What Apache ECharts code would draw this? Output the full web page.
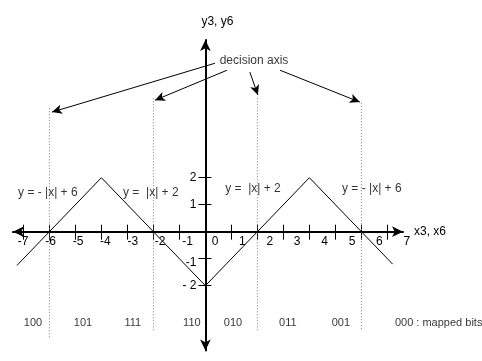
<!DOCTYPE html>
<html>
<head>
<meta charset="utf-8">
<script src="https://cdn.jsdelivr.net/npm/echarts@6/dist/echarts.min.js"></script>
<style>
  html, body { margin: 0; padding: 0; background: #fff; }
  #chart { width: 482px; height: 361px; }
</style>
</head>
<body>
<div id="chart"></div>
<script>
// Zig-zag decision function y = f(x) for the 8-level constellation
var curveX = [-7.25, -6, -4, -2, 0, 2, 4, 6, 7.2];
var curveY = [-1.25, 0, 2, 0, -2, 0, 2, 0, -1.2];

// Axis ticks and labels
var xTicks = [-7, -6, -5, -4, -3, -2, -1, 0, 1, 2, 3, 4, 5, 6, 7];
var xTickLabels = ['-7', '-6', '-5', '-4', '-3', '-2', '-1', '0', '1', '2', '3', '4', '5', '6', '7'];
var yTicks = [-2, -1, 1, 2];
var yTickLabels = ['- 2', '-1', '1', '2'];
// where each y tick label sits (the "-1" is set a little below its tick)
var yLabelAt = [-2, -1.13, 1, 2];

// Decision thresholds (vertical dotted lines)
var decisionX = [-6, -2, 2, 6];
var decisionTop = [4.57, 4.94, 4.94, 4.76];
var decisionBottom = [-3.91, -3.65, -3.65, -3.65];

// Callout arrows from the "decision axis" note
var arrowFrom = [[0.37, 6.24], [0.83, 5.98], [1.71, 5.91], [2.87, 5.98]];
var arrowTo = [[-5.9, 4.43], [-1.94, 4.87], [2.02, 5.06], [5.94, 4.80]];
var noteText = 'decision axis';
var notePos = [1.87, 6.35];

// Equation labels for each branch
var eqTexts = ['y = - |x| + 6', 'y =  |x| + 2', 'y =  |x| + 2', 'y = - |x| + 6'];
var eqX = [-6.06, -2.1, 1.83, 6.4];
var eqY = [1.46, 1.46, 1.61, 1.61];

// Mapped bit groups under each region
var bitTexts = ['100', '101', '111', '110', '010', '011', '001', '000 : mapped bits'];
var bitX = [-6.63, -4.71, -2.79, -0.52, 1.06, 3.17, 5.21, 7.29];
var bitY = -3.39;

var FONT = 'Liberation Sans, Arial, sans-serif';

var X_MIN = -7.4, X_MAX = 7.6, Y_MIN = -4.4, Y_MAX = 7.1;

var chart = echarts.init(document.getElementById('chart'), null, { renderer: 'canvas' });

var series = [];

series.push({
  name: 'f(x)',
  type: 'line',
  xAxisIndex: 0, yAxisIndex: 0,
  data: curveX.map(function (x, i) { return [x, curveY[i]]; }),
  symbol: 'none',
  lineStyle: { color: '#000', width: 1 },
  silent: true,
  z: 3
});

decisionX.forEach(function (x, i) {
  series.push({
    name: 'decision ' + (i + 1),
    type: 'line',
    xAxisIndex: 0, yAxisIndex: 0,
    data: [[x, decisionTop[i]], [x, decisionBottom[i]]],
    symbol: 'none',
    lineStyle: { color: '#777', width: 1, type: [1, 2] },
    silent: true,
    z: 1
  });
});

series.push({
  name: 'note',
  type: 'scatter',
  xAxisIndex: 0, yAxisIndex: 0,
  data: [{ value: notePos, name: noteText }],
  symbolSize: 0,
  silent: true,
  label: {
    show: true, position: 'inside', formatter: '{b}',
    color: '#000', fontFamily: FONT, fontSize: 12
  },
  markLine: {
    silent: true,
    symbol: ['none', 'arrow'],
    symbolSize: [7, 10],
    label: { show: false },
    lineStyle: { color: '#000', width: 1, type: 'solid' },
    data: arrowFrom.map(function (p, i) {
      return [{ coord: p }, { coord: arrowTo[i] }];
    })
  }
});

series.push({
  name: 'equations',
  type: 'scatter',
  xAxisIndex: 0, yAxisIndex: 0,
  data: eqTexts.map(function (t, i) { return { value: [eqX[i], eqY[i]], name: t }; }),
  symbolSize: 0,
  silent: true,
  label: {
    show: true, position: 'inside', formatter: '{b}',
    color: '#000', fontFamily: FONT, fontSize: 12
  },
  z: 4
});

var bitData = bitTexts.map(function (t, i) { return { value: [bitX[i], bitY], name: t }; });
// the last entry is left-aligned ("000 : mapped bits")
bitData[bitData.length - 1].label = { align: 'left' };

series.push({
  name: 'bits',
  type: 'scatter',
  xAxisIndex: 0, yAxisIndex: 0,
  data: bitData,
  symbolSize: 0,
  silent: true,
  label: {
    show: true, position: 'inside', formatter: '{b}',
    color: '#000', fontFamily: FONT, fontSize: 11,
    align: 'center'
  }
});

var option = {
  animation: false,
  backgroundColor: '#fff',
  grid: [
    { left: 13, right: 79, top: 40, bottom: 10.5,
      outerBoundsMode: 'none', containLabel: false },
    // thin strip carrying the x tick labels on their own scale
    { left: 9.5, right: 61.5, top: 231, height: 1,
      outerBoundsMode: 'none', containLabel: false }
  ],
  xAxis: [
    {
      type: 'value', gridIndex: 0, min: X_MIN, max: X_MAX,
      position: 'bottom',
      axisLine: { onZero: true, symbol: ['arrow', 'arrow'], symbolSize: [8, 11],
        lineStyle: { color: '#000', width: 2 } },
      axisTick: { show: true, length: 8, customValues: xTicks,
        lineStyle: { color: '#000', width: 1 } },
      axisLabel: { show: false },
      splitLine: { show: false },
      name: 'x3, x6', nameLocation: 'end', nameGap: 11,
      nameTextStyle: { color: '#000', fontFamily: FONT, fontSize: 12 }
    },
    {
      type: 'value', gridIndex: 0, min: X_MIN, max: X_MAX,
      position: 'top',
      axisLine: { onZero: true, show: false },
      axisTick: { show: true, length: 7, customValues: xTicks,
        lineStyle: { color: '#000', width: 1 } },
      axisLabel: { show: false },
      splitLine: { show: false }
    },
    {
      type: 'value', gridIndex: 1, min: -7.5, max: 7.5,
      position: 'bottom',
      axisLine: { show: false, onZero: false },
      axisTick: { show: false },
      axisLabel: {
        show: true, margin: 4, customValues: xTicks,
        color: '#000', fontFamily: FONT, fontSize: 12,
        formatter: function (v) { return xTickLabels[xTicks.indexOf(Math.round(v))]; }
      },
      splitLine: { show: false }
    }
  ],
  yAxis: [
    {
      type: 'value', gridIndex: 0, min: Y_MIN, max: Y_MAX,
      position: 'left',
      axisLine: { onZero: true, symbol: ['arrow', 'arrow'], symbolSize: [8, 11],
        lineStyle: { color: '#000', width: 2 } },
      axisTick: { show: true, length: 7, customValues: yTicks,
        lineStyle: { color: '#000', width: 1 } },
      axisLabel: { show: false },
      splitLine: { show: false },
      name: 'y3, y6', nameLocation: 'end', nameGap: 12,
      nameTextStyle: { color: '#000', fontFamily: FONT, fontSize: 12,
        align: 'center', padding: [0, 0, 0, 24] }
    },
    {
      type: 'value', gridIndex: 0, min: Y_MIN, max: Y_MAX,
      position: 'right',
      axisLine: { onZero: true, show: false },
      axisTick: { show: true, length: 6, customValues: yTicks,
        lineStyle: { color: '#000', width: 1 } },
      axisLabel: { show: false },
      splitLine: { show: false }
    },
    {
      type: 'value', gridIndex: 1, min: 0, max: 1, show: false
    }
  ],
  series: series
};

chart.setOption(option);

// y tick labels, placed through the chart's own y scale just left of the axis,
// on their own layer above the plot
chart.setOption({
  graphic: yTickLabels.map(function (t, i) {
    var p = chart.convertToPixel({ xAxisIndex: 0, yAxisIndex: 0 }, [0, yLabelAt[i]]);
    return {
      type: 'text', x: p[0] - 9, y: p[1], silent: true, z: 100, zlevel: 1,
      style: {
        text: t, fill: '#000', fontFamily: FONT, fontSize: 12,
        align: 'right', verticalAlign: 'middle'
      }
    };
  })
});
</script>
</body>
</html>
